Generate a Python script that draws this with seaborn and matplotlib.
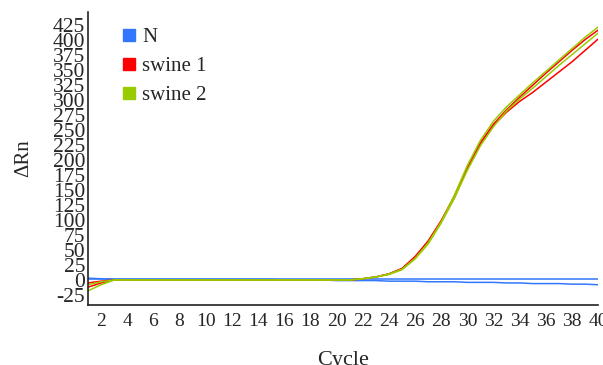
import numpy as np
import pandas as pd
import seaborn as sns
import matplotlib.pyplot as plt
from matplotlib.lines import Line2D

# ----------------------------------------
# Data
cycles = list(range(1, 41))

n_well_a = [2, 2, 2, 2, 2, 2, 2, 2, 2, 2, 2, 2, 2, 2, 2, 2, 2, 2, 2, 2,
            2, 2, 2, 2, 2, 2, 2, 2, 2, 2, 2, 2, 2, 2, 2, 2, 2, 2, 2, 2]
n_well_b = [3, 2, 1, 1, 1, 1, 1, 1, 1, 1, 1, 1, 1, 1, 1, 0, 0, 0, 0, -1,
            -1, -1, -1, -2, -2, -2, -3, -3, -3, -4, -4, -4, -5, -5, -6, -6, -6, -7, -7, -8]

swine1_a = [-5, -2, 0, 0, 0, 0, 0, 0, 0, 0, 0, 0, 0, 0, 0, 0, 0, 0, 0, 0,
            0, 2, 5, 10, 19, 38, 64, 98, 137, 187, 229, 260, 284, 305, 325, 345, 364, 383, 401, 417]
swine1_b = [-12, -5, 0, 0, 0, 0, 0, 0, 0, 0, 0, 0, 0, 0, 0, 0, 0, 0, 0, 0,
            0, 2, 5, 10, 19, 39, 65, 99, 140, 188, 228, 258, 280, 298, 313, 330, 347, 364, 383, 402]
swine2_a = [-8, -3, 0, 0, 0, 0, 0, 0, 0, 0, 0, 0, 0, 0, 0, 0, 0, 0, 0, 0,
            0, 2, 5, 10, 18, 36, 62, 97, 141, 191, 233, 265, 289, 309, 329, 348, 367, 386, 405, 422]
swine2_b = [-18, -8, 0, 0, 0, 0, 0, 0, 0, 0, 0, 0, 0, 0, 0, 0, 0, 0, 0, 0,
            0, 2, 5, 9, 17, 35, 60, 95, 136, 183, 224, 256, 282, 302, 320, 339, 358, 376, 394, 412]

samples = ['N', 'swine 1', 'swine 2']
sample_colors = ['#3377ff', '#ff0000', '#99cc00']
y_ticks = list(range(-25, 426, 25))
x_ticks = list(range(2, 41, 2))
# ----------------------------------------


def build_frame():
    wells = [('N', 'N-a', n_well_a), ('N', 'N-b', n_well_b),
             ('swine 1', 's1-a', swine1_a), ('swine 1', 's1-b', swine1_b),
             ('swine 2', 's2-a', swine2_a), ('swine 2', 's2-b', swine2_b)]
    parts = []
    for sample, well, vals in wells:
        parts.append(pd.DataFrame({'Cycle': cycles, 'dRn': vals,
                                   'sample': sample, 'well': well}))
    return pd.concat(parts, ignore_index=True)


def main():
    sns.set_style('white')
    plt.rcParams['font.family'] = ['Liberation Serif', 'DejaVu Serif']
    plt.rcParams['axes.unicode_minus'] = False

    df = build_frame()
    fig = plt.figure(figsize=(6.03, 3.65), dpi=100)
    ax = fig.add_axes([0.146, 0.164, 0.846, 0.803])

    palette = dict(zip(samples, sample_colors))
    sns.lineplot(data=df, x='Cycle', y='dRn', hue='sample', units='well',
                 estimator=None, palette=palette, linewidth=1.1,
                 legend=False, ax=ax)

    ax.set_xlim(1, 40)
    ax.set_ylim(-42, 447)
    ax.set_xticks(x_ticks)
    ax.set_yticks(y_ticks)
    ax.tick_params(axis='x', direction='in', length=6, width=1, labelsize=14, pad=6)
    ax.tick_params(axis='y', direction='in', length=6, width=1, labelsize=15.5, pad=2)
    ax.set_xlabel('Cycle', fontsize=16, labelpad=15)
    ax.set_ylabel('ΔRn', fontsize=15, labelpad=14)

    for side in ['top', 'right']:
        ax.spines[side].set_visible(False)
    for side in ['left', 'bottom']:
        ax.spines[side].set_color('#222222')
        ax.spines[side].set_linewidth(1.2)

    handles = [Line2D([], [], marker='s', linestyle='none', markersize=9,
                      color=c) for c in sample_colors]
    ax.legend(handles, samples, loc='upper left', bbox_to_anchor=(0.02, 1.01),
              frameon=False, fontsize=15, handletextpad=0.0, labelspacing=0.45,
              handlelength=1.2)

    fig.savefig('out.png', dpi=100)


if __name__ == "__main__":
    main()
